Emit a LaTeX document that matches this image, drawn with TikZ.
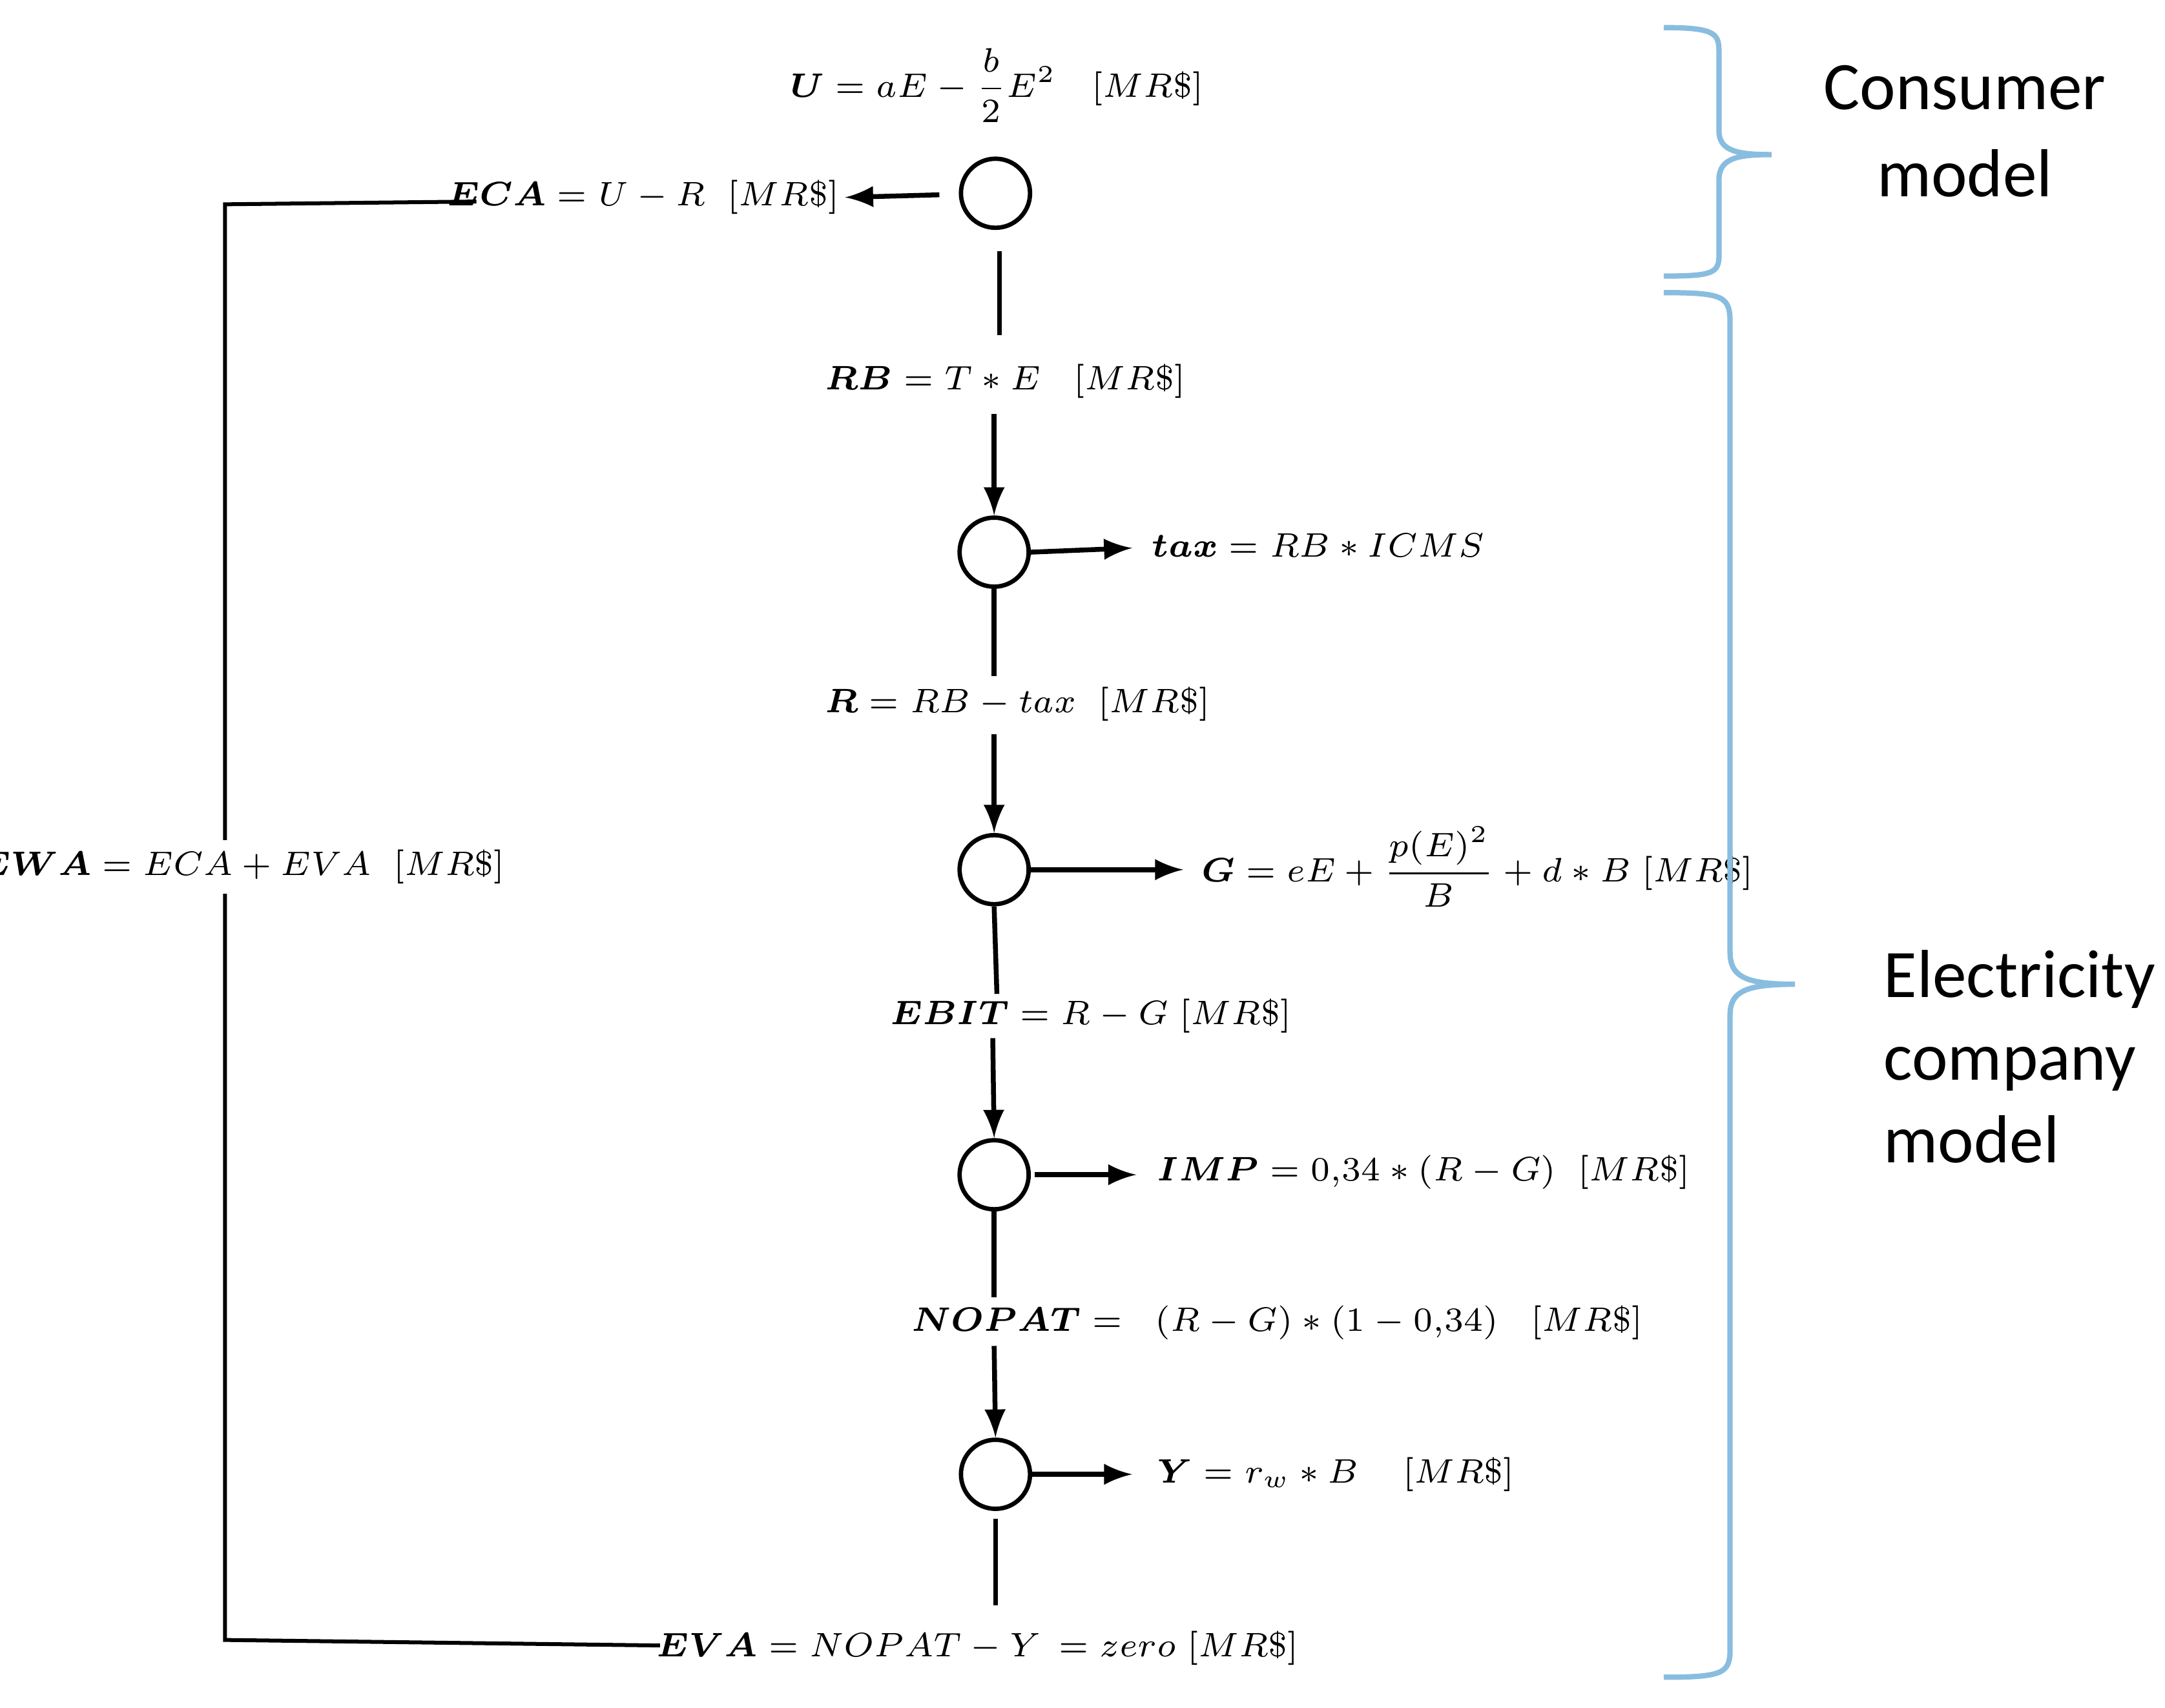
\documentclass[tikz,border=0pt]{standalone}
\usepackage{amsmath}
\usepackage{bm}
\usepackage{fontspec}
\newfontfamily\carlitofont{Carlito}
\begin{document}
\begin{tikzpicture}[x=0.01cm,y=-0.01cm,
  f/.style={font=\fontsize{7.4}{9}\selectfont, inner sep=1pt},
  c/.style={circle,draw,line width=0.9pt,minimum size=0.5cm,inner sep=0pt},
  ln/.style={line width=1pt},
  ar/.style={line width=1pt,-latex},
  br/.style={draw=blue!40!cyan!45!white!75!gray,line width=1.1pt},
  lab/.style={font=\carlitofont\fontsize{14}{18}\selectfont, align=left}]
\useasboundingbox (0,0) rectangle (1568,1237);
\node[f] (u) at (722,62) {$\bm{U}=aE-\dfrac{b}{2}E^2\quad[MR\$]$};
\node[c] (c1) at (721,140) {};
\node[f,anchor=east] (eca) at (612,143) {$\bm{ECA}=U-R\;\;[MR\$]$};
\node[f] (rb) at (728,276) {$\bm{RB}=T*E\;\;\;[MR\$]$};
\node[c] (c2) at (720,400) {};
\node[f,anchor=west] (tax) at (830,395) {$\bm{tax}=RB*ICMS$};
\node[f] (r) at (737,510) {$\bm{R}=RB-tax\;\;[MR\$]$};
\node[c] (c3) at (720,630) {};
\node[f,anchor=west] (g) at (866,628) {$\bm{G}=eE+\dfrac{p(E)^2}{B}+d*B\;[MR\$]$};
\node[f] (ebit) at (790,736) {$\bm{EBIT}=R-G\;[MR\$]$};
\node[c] (c4) at (720,851) {};
\node[f,anchor=west] (imp) at (834,849) {$\bm{IMP}=0{,}34*(R-G)\;\;[MR\$]$};
\node[f] (nopat) at (925,958) {$\bm{NOPAT}=\;\;(R-G)*(1-0{,}34)\;\;\;[MR\$]$};
\node[c] (c5) at (721,1068) {};
\node[f,anchor=west] (y) at (834,1068) {$\bm{Y}=r_w*B\;\;\;\;[MR\$]$};
\node[f] (eva) at (708,1194) {$\bm{EVA}=NOPAT-Y\,=zero\;[MR\$]$};
\coordinate (s1) at (345,146);
\coordinate (k1) at (163,148);
\coordinate (k2) at (163,1188);
\coordinate (s2) at (478,1192);
\coordinate (a1) at (724,182);
\coordinate (a2) at (724,243);
\draw[ar,shorten <=4pt] (c1) -- (eca.east);
\draw[ln] (a1) -- (a2);
\draw[ar] (720,300) -- (c2.north);
\draw[ar] (c2.east) -- (820,397);
\draw[ln] (c2.south) -- (720,490);
\draw[ar] (720,532) -- (c3.north);
\draw[ar] (c3.east) -- (857,630);
\draw[ln] (c3.south) -- (722,720);
\draw[ar] (719,752) -- (c4.north);
\draw[ar] (c4.east) ++(3,0) -- (823,851);
\draw[ln] (c4.south) -- (720,940);
\draw[ar] (720,975) -- (c5.north);
\draw[ar] (c5.east) -- (820,1068);
\draw[ln] (721,1100) -- (721,1163);
\draw[line width=0.8pt] (s1) -- (k1) -- (k2) -- (s2);
\node[f,fill=white,inner sep=2pt] (ewa) at (175,628) {$\bm{EWA}=ECA+EVA\;\;[MR\$]$};
\draw[br] (1205,20) .. controls (1245,20) and (1245,25) .. (1245,40) -- (1245,95)
  .. controls (1245,110) and (1260,112) .. (1283,112)
  .. controls (1260,112) and (1245,114) .. (1245,130) -- (1245,185)
  .. controls (1245,198) and (1240,200) .. (1205,200);
\draw[br] (1205,212) .. controls (1250,212) and (1253,215) .. (1253,235) -- (1253,690)
  .. controls (1253,708) and (1265,713) .. (1300,713)
  .. controls (1265,713) and (1253,718) .. (1253,735) -- (1253,1195)
  .. controls (1253,1212) and (1248,1215) .. (1205,1215);
\node[lab,align=center] (cm) at (1423,95) {Consumer\\model};
\node[lab,anchor=north west] (ecm) at (1352,676) {Electricity\\[-1pt]company\\[-1pt]model};
\end{tikzpicture}
\end{document}
